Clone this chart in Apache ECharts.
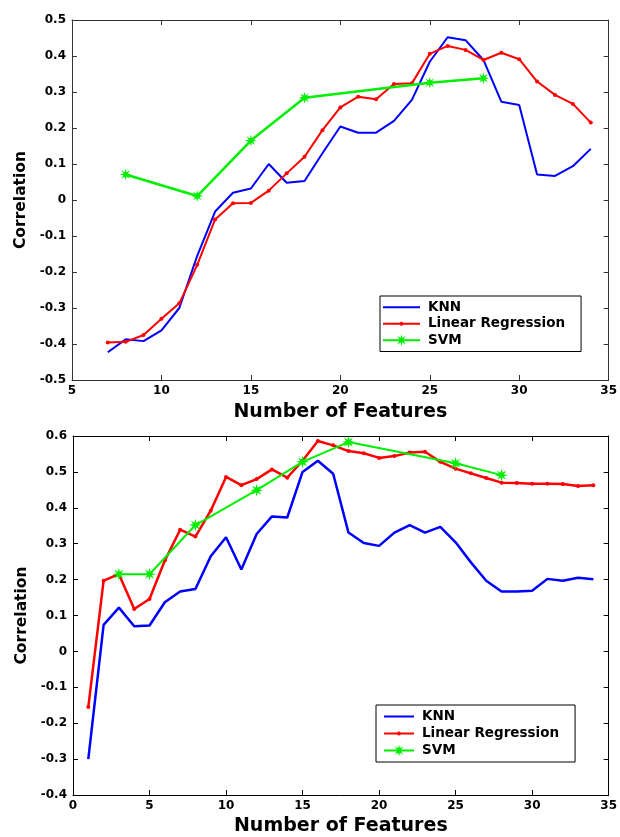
<!DOCTYPE html>
<html>
<head>
<meta charset="utf-8">
<script src="https://cdn.jsdelivr.net/npm/echarts@6/dist/echarts.min.js"></script>
<style>
html,body{margin:0;padding:0;background:#fff;}
#chart{width:620px;height:837px;}
</style>
</head>
<body>
<div id="chart"></div>
<script>
// ---------- data ----------
var seriesNames = ['KNN', 'Linear Regression', 'SVM'];

// top panel
var topX = [7,8,9,10,11,12,13,14,15,16,17,18,19,20,21,22,23,24,25,26,27,28,29,30,31,32,33,34];
var topKNN = [-0.423,-0.387,-0.392,-0.362,-0.300,-0.155,-0.032,0.020,0.032,0.100,0.048,0.053,0.130,0.204,0.187,0.187,0.220,0.278,0.384,0.452,0.444,0.389,0.273,0.264,0.071,0.067,0.094,0.142];
var topLR = [-0.396,-0.394,-0.375,-0.330,-0.287,-0.180,-0.054,-0.009,-0.008,0.026,0.074,0.120,0.194,0.257,0.287,0.280,0.322,0.324,0.406,0.428,0.417,0.389,0.409,0.391,0.329,0.292,0.267,0.215];
var topSVMx = [8,12,15,18,25,28];
var topSVM = [0.071,0.011,0.165,0.284,0.326,0.338];
var topXTicks = [5,35,5];     // min, max, interval
var topYTicks = [-0.5,0.5,0.1];

// bottom panel
var botX = [1,2,3,4,5,6,7,8,9,10,11,12,13,14,15,16,17,18,19,20,21,22,23,24,25,26,27,28,29,30,31,32,33,34];
var botKNN = [-0.300,0.074,0.122,0.070,0.072,0.137,0.167,0.174,0.265,0.318,0.228,0.327,0.376,0.373,0.500,0.531,0.495,0.331,0.302,0.294,0.331,0.352,0.331,0.347,0.304,0.248,0.197,0.167,0.167,0.169,0.202,0.197,0.205,0.201];
var botLR = [-0.155,0.197,0.215,0.118,0.146,0.253,0.339,0.320,0.392,0.486,0.463,0.480,0.507,0.484,0.531,0.586,0.574,0.558,0.552,0.539,0.544,0.554,0.556,0.528,0.509,0.496,0.483,0.470,0.469,0.467,0.467,0.466,0.461,0.463];
var botSVMx = [3,5,8,12,15,18,25,28];
var botSVM = [0.215,0.215,0.352,0.449,0.528,0.583,0.524,0.491];
var botXTicks = [0,35,5];
var botYTicks = [-0.4,0.6,0.1];

var xAxisName = 'Number of Features';
var yAxisName = 'Correlation';

// ---------- helpers ----------
function pairs(xs, ys){ return xs.map(function(x,i){ return [x, ys[i]]; }); }
function polyPts(cx, cy, n, r1, r2){
  var pts = [];
  var m = r2 == null ? n : 2*n;
  for (var i = 0; i < m; i++){
    var r = (r2 == null || i % 2 === 0) ? r1 : r2;
    var a = 2*Math.PI * i / m - Math.PI/2;
    pts.push((cx + r*Math.cos(a)).toFixed(2) + ' ' + (cy + r*Math.sin(a)).toFixed(2));
  }
  return 'M' + pts.join(' L') + ' Z';
}
var STAR = 'path://' + polyPts(50, 50, 8, 50, 20);
// legend icons: line + optional marker, drawn in pixel units (kept aspect)
function legendIcon(kind, w){
  var cy = 6, lw = 2;
  var p = 'M0 ' + (cy - lw/2) + ' H' + w + ' V' + (cy + lw/2) + ' H0 Z';
  if (kind === 'dot') p += ' ' + polyPts(w/2, cy, 12, 2);
  if (kind === 'star') p += ' ' + polyPts(w/2, cy, 8, 6, 2.4);
  return 'path://' + p;
}
var iconKinds = ['line', 'dot', 'star'];

var FONT = 'DejaVu Sans';
var BLUE = '#0000ff', RED = '#ff0000', GREEN = '#00ee00';

function fmt1(v){ return String(Number(v.toFixed(1))); }

function mainX(grid, t, axisColor){
  return {
    type:'value', gridIndex:grid, min:t[0], max:t[1], interval:t[2], position:'bottom',
    name:xAxisName, nameLocation:'middle', nameGap: grid===0 ? 23 : 22,
    nameTextStyle:{fontFamily:FONT, fontWeight:'bold', fontSize:19, color:'#000'},
    axisLine:{show:true, onZero:false, lineStyle:{color:axisColor, width:1}},
    axisTick:{show:true, inside:true, length:5, lineStyle:{color:axisColor}},
    axisLabel:{show:true, margin:5, fontFamily:FONT, fontWeight:'bold', fontSize:12, color:'#000',
      formatter:function(v){ return String(v); }},
    splitLine:{show:false}
  };
}
function mirrorX(grid, t, axisColor){
  return {
    type:'value', gridIndex:grid, min:t[0], max:t[1], interval:t[2], position:'top',
    axisLine:{show:true, onZero:false, lineStyle:{color:axisColor, width:1}},
    axisTick:{show:true, inside:true, length:5, lineStyle:{color:axisColor}},
    axisLabel:{show:false}, splitLine:{show:false}
  };
}
function mainY(grid, t, axisColor){
  return {
    type:'value', gridIndex:grid, min:t[0], max:t[1], interval:t[2], position:'left',
    name:yAxisName, nameLocation:'middle', nameGap:42, nameRotate:90,
    nameTextStyle:{fontFamily:FONT, fontWeight:'bold', fontSize:15.5, color:'#000'},
    axisLine:{show:true, onZero:false, lineStyle:{color:axisColor, width:1}},
    axisTick:{show:true, inside:true, length:5, lineStyle:{color:axisColor}},
    axisLabel:{show:true, margin:6, fontFamily:FONT, fontWeight:'bold', fontSize:12, color:'#000', formatter:fmt1},
    splitLine:{show:false}
  };
}
function mirrorY(grid, t, axisColor){
  return {
    type:'value', gridIndex:grid, min:t[0], max:t[1], interval:t[2], position:'right',
    axisLine:{show:true, onZero:false, lineStyle:{color:axisColor, width:1}},
    axisTick:{show:true, inside:true, length:5, lineStyle:{color:axisColor}},
    axisLabel:{show:false}, splitLine:{show:false}
  };
}
function legendFor(left, top, iconW, rowH, pad){
  return {
    orient:'vertical', left:left, top:top,
    data: seriesNames.map(function(n, i){
      return {name:n, icon:legendIcon(iconKinds[i], iconW), itemStyle:{borderWidth:0}};
    }),
    backgroundColor:'#fff', borderColor:'#000', borderWidth:1,
    padding:pad, itemWidth:iconW, itemHeight:12, itemGap:0,
    selectedMode:false,
    textStyle:{fontFamily:FONT, fontWeight:'bold', fontSize:13.5, color:'#000', lineHeight:rowH, padding:[0,0,0,3]}
  };
}

var chart = echarts.init(document.getElementById('chart'), null, {renderer:'canvas'});
chart.setOption({
  animation:false,
  backgroundColor:'#fff',
  grid:[
    {left:72, top:20, right:7, height:360},
    {left:73, top:436, right:8, height:360}
  ],
  xAxis:[ mainX(0, topXTicks, '#333'), mirrorX(0, topXTicks, '#333'),
          mainX(1, botXTicks, '#000'), mirrorX(1, botXTicks, '#000') ],
  yAxis:[ mainY(0, topYTicks, '#333'), mirrorY(0, topYTicks, '#333'),
          mainY(1, botYTicks, '#000'), mirrorY(1, botYTicks, '#000') ],
  legend:[ legendFor(380, 296, 37, 16.5, [3,16,3,3]), legendFor(376, 705, 30, 17, [3,16,3,8]) ],
  series:[
    {name:'KNN', type:'line', xAxisIndex:0, yAxisIndex:0, data:pairs(topX, topKNN),
      showSymbol:false, symbol:'none', lineStyle:{color:BLUE, width:2}, itemStyle:{color:BLUE}, z:3},
    {name:'Linear Regression', type:'line', xAxisIndex:0, yAxisIndex:0, data:pairs(topX, topLR),
      symbol:'circle', symbolSize:4, lineStyle:{color:RED, width:2}, itemStyle:{color:RED}, z:4},
    {name:'SVM', type:'line', xAxisIndex:0, yAxisIndex:0, data:pairs(topSVMx, topSVM),
      symbol:STAR, symbolSize:12, lineStyle:{color:GREEN, width:2.5}, itemStyle:{color:GREEN}, z:5},

    {name:'KNN', type:'line', xAxisIndex:2, yAxisIndex:2, data:pairs(botX, botKNN),
      showSymbol:false, symbol:'none', lineStyle:{color:BLUE, width:2.5}, itemStyle:{color:BLUE}, z:3},
    {name:'Linear Regression', type:'line', xAxisIndex:2, yAxisIndex:2, data:pairs(botX, botLR),
      symbol:'circle', symbolSize:4, lineStyle:{color:RED, width:2.5}, itemStyle:{color:RED}, z:4},
    {name:'SVM', type:'line', xAxisIndex:2, yAxisIndex:2, data:pairs(botSVMx, botSVM),
      symbol:STAR, symbolSize:13, lineStyle:{color:GREEN, width:2}, itemStyle:{color:GREEN}, z:5}
  ]
});
</script>
</body>
</html>
